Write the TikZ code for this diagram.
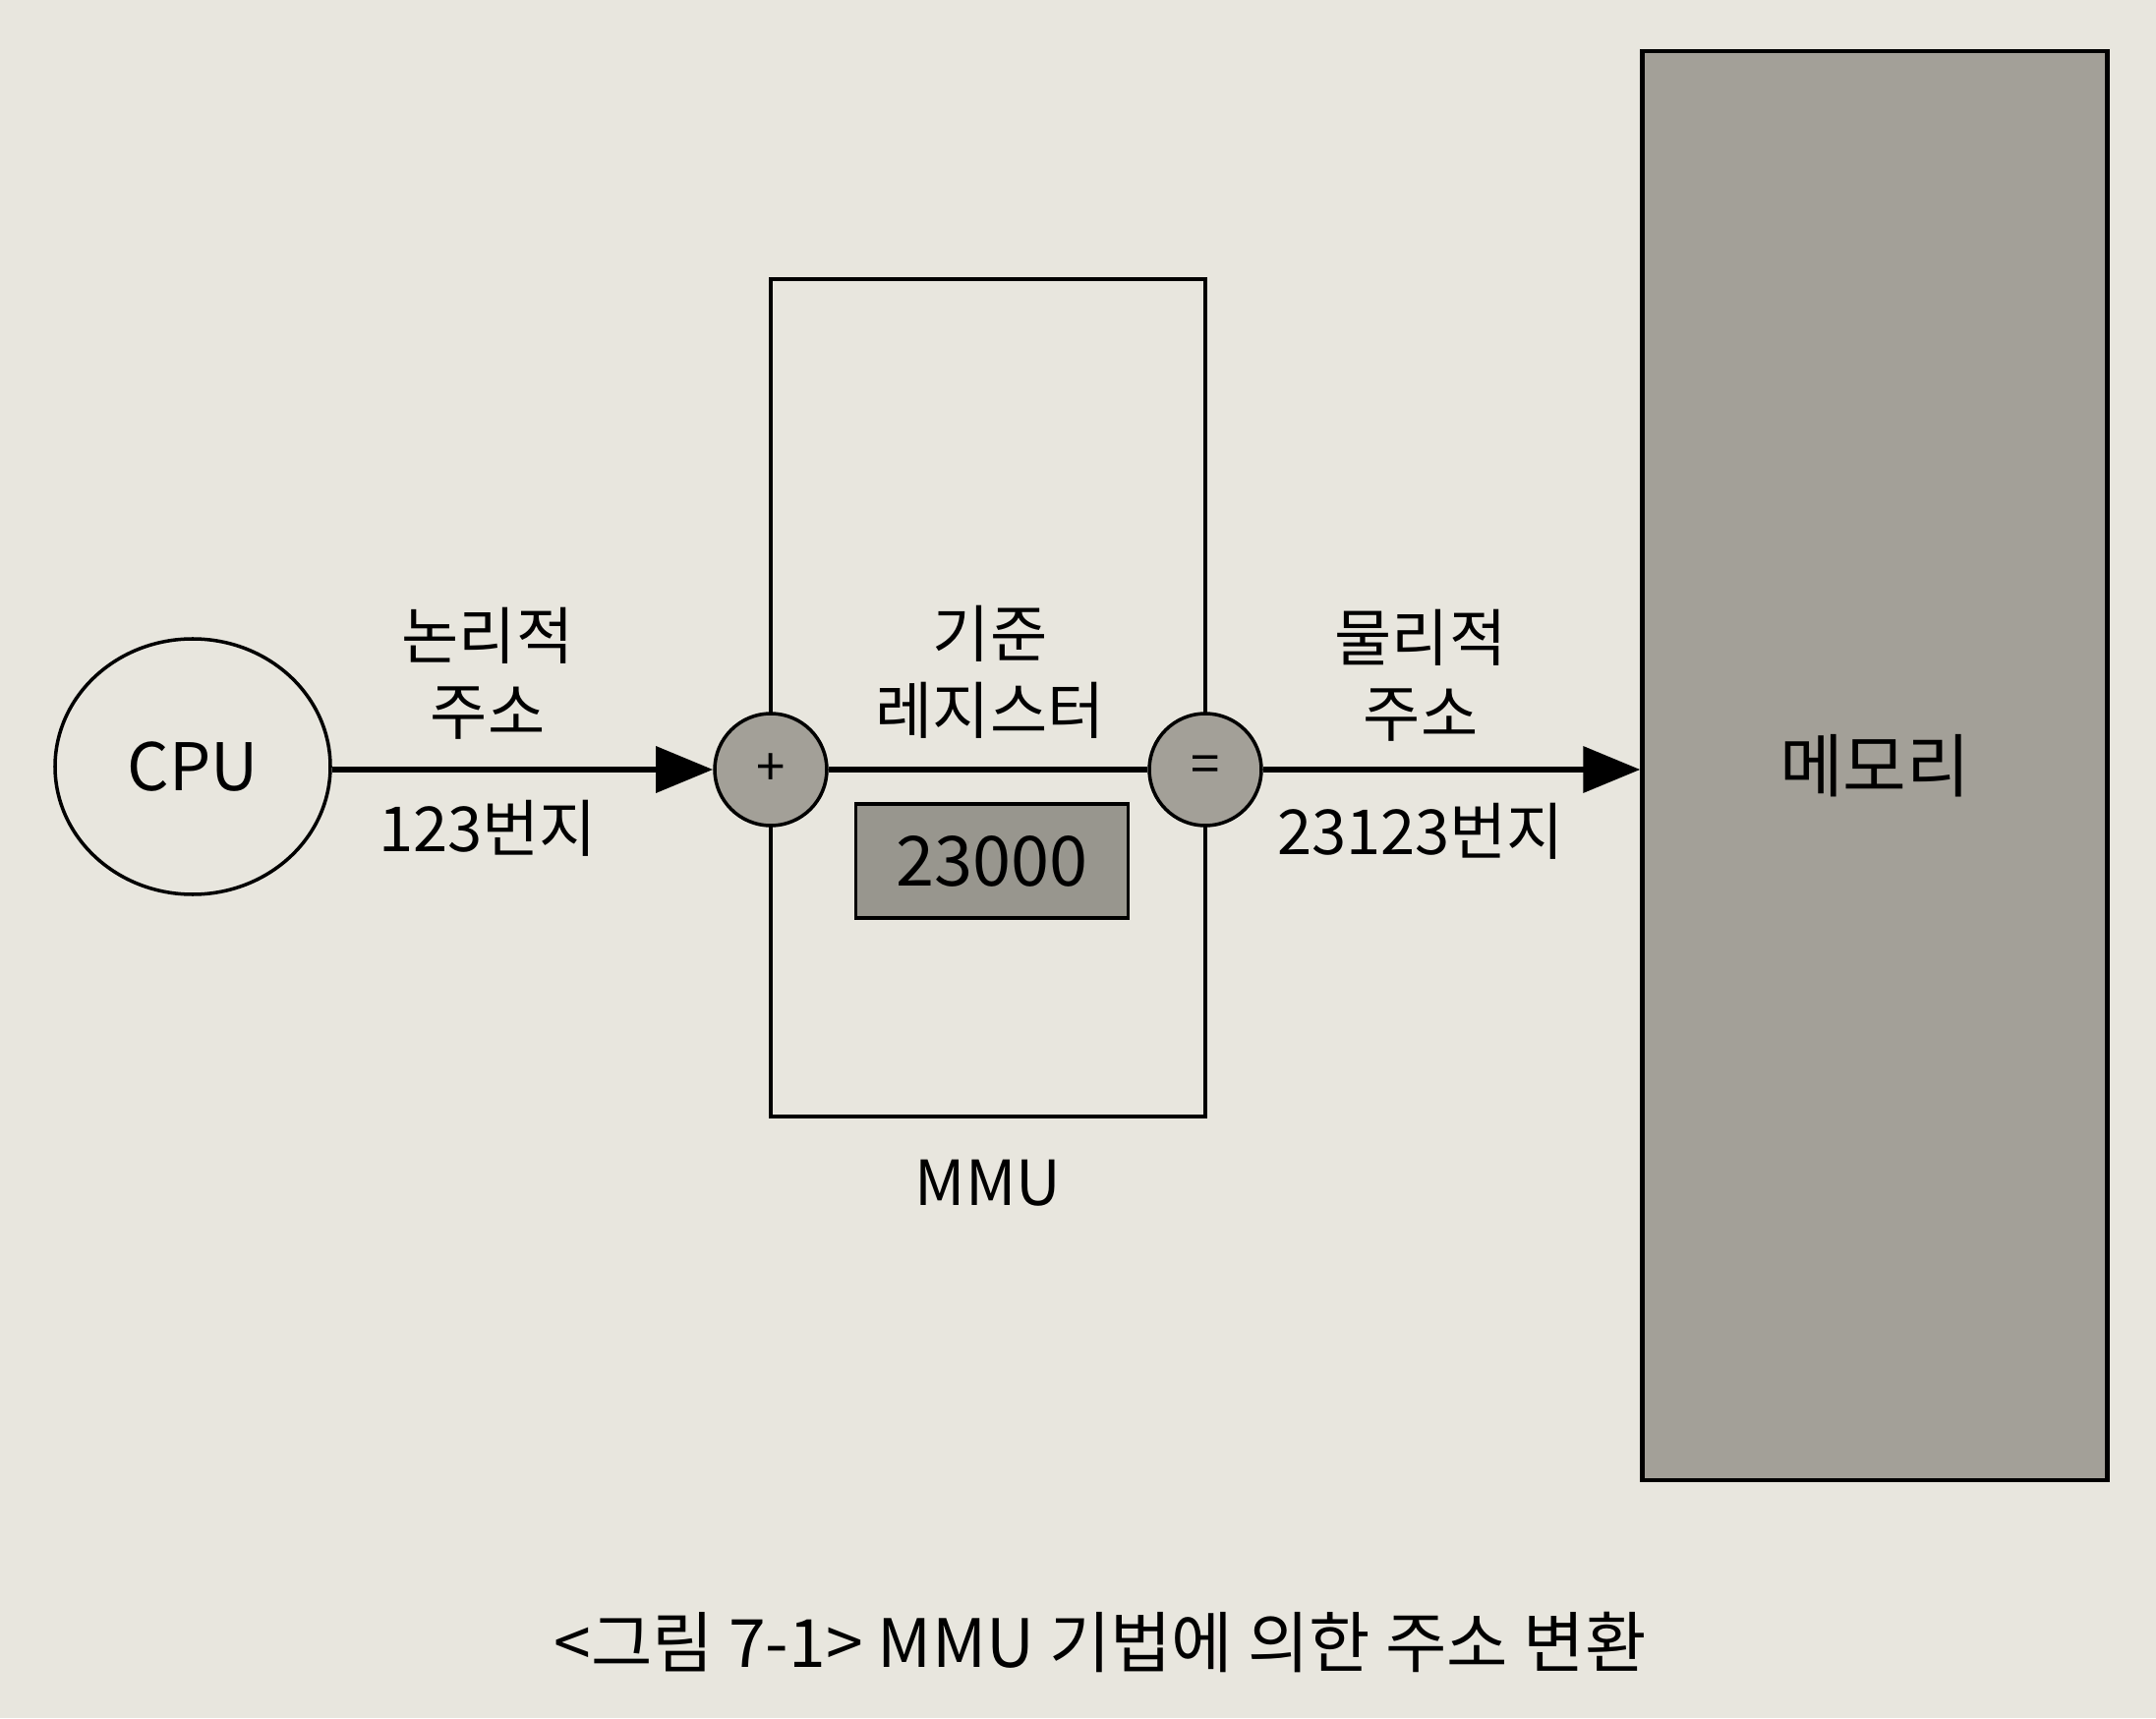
\documentclass[tikz,border=0pt]{standalone}
\usepackage{fontspec}
\setmainfont{Noto Sans CJK KR}
\usetikzlibrary{arrows.meta,positioning,shapes.geometric}
\definecolor{paper}{RGB}{232,230,222}
\definecolor{boxgray}{RGB}{163,160,152}
\definecolor{reggray}{RGB}{152,150,142}

\begin{document}
\begin{tikzpicture}[
        unit/.style={circle, draw, line width=1pt, fill=boxgray, minimum size=1.14cm, inner sep=0pt, font=\fontsize{15}{15}\selectfont},
        lbl/.style={align=center, font=\fontsize{18}{22}\selectfont},
        arrow/.style={-{Triangle[length=0.58cm,width=0.46cm]}, line width=1.9pt}
    ]
        \fill[paper] (0,0) rectangle (21.93,17.48);
        \useasboundingbox (0,0) rectangle (21.93,17.48);

        \node[rectangle, draw, line width=1pt, minimum width=4.42cm, minimum height=8.52cm] (mmu) at (10.05,10.38) {};
        \node[rectangle, draw, line width=1pt, fill=reggray, minimum width=2.77cm, minimum height=1.16cm, font=\fontsize{20}{20}\selectfont] (reg) at (10.09,8.72) {23000};
        \node[rectangle, draw, line width=1.2pt, fill=boxgray, minimum width=4.73cm, minimum height=14.54cm, font=\fontsize{20}{20}\selectfont] (mem) at (19.07,9.69) {메모리};

        \node[ellipse, draw, line width=1pt, minimum width=2.8cm, minimum height=2.6cm, font=\fontsize{19}{19}\selectfont] (cpu) at (1.96,9.68) {CPU};
        \node[unit] (plus) at (7.84,9.65) {+};
        \node[unit] (eq) at (12.26,9.65) {=};

        \draw[arrow] (cpu.east |- plus) -- (plus);
        \draw[line width=1.9pt] (plus) -- (eq);
        \draw[arrow] (eq.east) -- (eq.east -| mem.west);

        \node[lbl] (logic) at (4.96,10.63) {논리적\\주소};
        \node[lbl] (logicnum) at (4.96,9.05) {123번지};
        \node[lbl] (base) at (10.07,10.64) {기준\\레지스터};
        \node[lbl] (phys) at (14.45,10.61) {물리적\\주소};
        \node[lbl] (physnum) at (14.45,9.02) {23123번지};
        \node[lbl, below=0.3cm of mmu] (mmulabel) {MMU};

        \node[lbl, font=\fontsize{19.3}{22}\selectfont] (caption) at (11.19,0.77) {<그림 7-1> MMU 기법에 의한 주소 변환};
    \end{tikzpicture}
\end{document}
